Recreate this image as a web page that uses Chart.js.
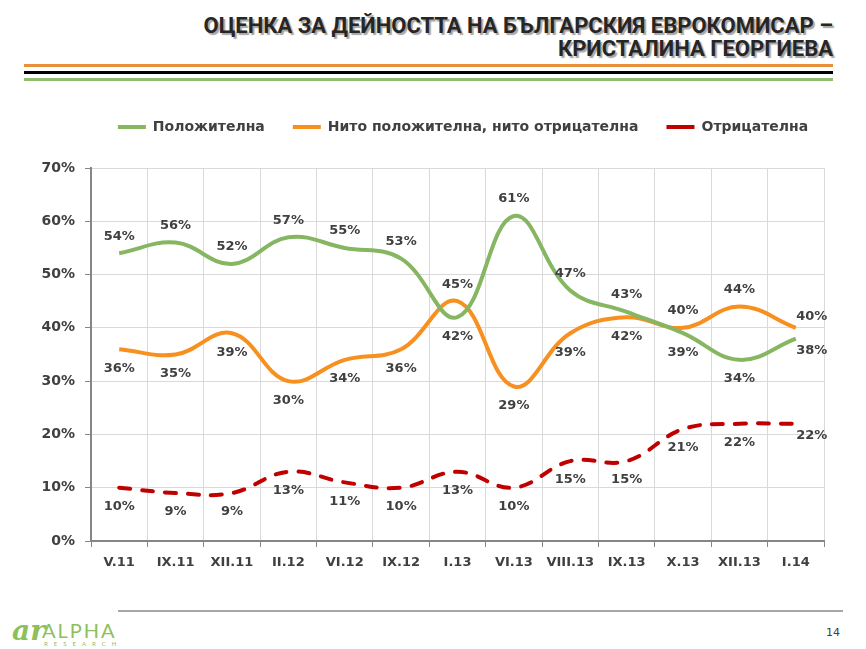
<!DOCTYPE html>
<html>
<head>
<meta charset="utf-8">
<script src="https://cdn.jsdelivr.net/npm/chart.js@4.4.1/dist/chart.umd.min.js"></script>
<style>
body { margin: 0; background: #fff; width: 866px; height: 649px; position: relative; overflow: hidden; font-family: "DejaVu Sans", sans-serif; }
.title { position: absolute; right: 33px; top: 14px; text-align: right; font-family: "Liberation Sans Narrow", "Roboto", sans-serif; font-weight: bold; font-size: 22px; line-height: 23px; color: #262626; text-shadow: 2px 2px 1px #a6a6a6; }
.rule { position: absolute; left: 24px; width: 809px; height: 3px; }
#wrap { position: absolute; left: 0; top: 84px; width: 866px; height: 501px; }
.foot { position: absolute; left: 118px; top: 610px; width: 725px; height: 2px; background: #a6a6a6; }
.page { position: absolute; left: 826px; top: 626px; font-size: 11px; color: #404040; }
.logo { position: absolute; left: 12px; top: 614px; color: #8dbf5b; }
.logo .mark { position: absolute; left: 0; top: 0; font: italic bold 28px "DejaVu Serif", serif; }
.logo .a { position: absolute; left: 30px; top: 4px; font: 20px "Lato", sans-serif; letter-spacing: 2px; }
.logo .r { position: absolute; left: 32px; top: 26px; font: 6px "Lato", sans-serif; letter-spacing: 6px; }
</style>
</head>
<body>
<div class="title">ОЦЕНКА ЗА ДЕЙНОСТТА НА БЪЛГАРСКИЯ ЕВРОКОМИСАР –<br>КРИСТАЛИНА ГЕОРГИЕВА</div>
<div class="rule" style="top:64px;background:#e8903a"></div>
<div class="rule" style="top:71px;background:#000"></div>
<div class="rule" style="top:78px;background:#8fbb6e"></div>
<div id="wrap"><canvas id="chart" width="866" height="501"></canvas></div>
<div class="foot"></div>
<div class="page">14</div>
<div class="logo"><span class="mark">ar</span><span class="a">ALPHA</span><span class="r">RESEARCH</span></div>
<script>
const categories = ['V.11', 'IX.11', 'XII.11', 'II.12', 'VI.12', 'IX.12', 'I.13', 'VI.13', 'VIII.13', 'IX.13', 'X.13', 'XII.13', 'I.14'];
const positive = [54, 56, 52, 57, 55, 53, 42, 61, 47, 43, 39, 34, 38];
const neutral = [36, 35, 39, 30, 34, 36, 45, 29, 39, 42, 40, 44, 40];
const negative = [10, 9, 9, 13, 11, 10, 13, 10, 15, 15, 21, 22, 22];
const yTicks = [0, 10, 20, 30, 40, 50, 60, 70];

// where each value label sits: a = above, b = below
const labelSide = [
    ['a', 'a', 'a', 'a', 'a', 'a', 'b', 'a', 'a', 'a', 'b', 'b', 'b'],
    ['b', 'b', 'b', 'b', 'b', 'b', 'a', 'b', 'b', 'b', 'a', 'a', 'a'],
    ['b', 'b', 'b', 'b', 'b', 'b', 'b', 'b', 'b', 'b', 'b', 'b', 'b']
];

const valueLabels = {
    id: 'valueLabels',
    afterDatasetsDraw(chart) {
        const ctx = chart.ctx;
        ctx.save();
        ctx.font = 'bold 13px "DejaVu Sans"';
        ctx.fillStyle = '#404040';
        ctx.textAlign = 'center';
        ctx.textBaseline = 'middle';
        chart.data.datasets.forEach((ds, i) => {
            chart.getDatasetMeta(i).data.forEach((pt, j) => {
                const last = j === ds.data.length - 1;
                let dy = labelSide[i][j] === 'a' ? -17 : 19;
                if (last) dy = labelSide[i][j] === 'a' ? -11 : 12;
                ctx.fillText(ds.data[j] + '%', pt.x + (last ? 16 : 0), pt.y + dy);
            });
        });
        ctx.restore();
    }
};

// more room under the legend, and legend moved a bit to the right
const legendGap = {
    id: 'legendGap',
    beforeInit(chart) {
        const fit = chart.legend.fit;
        chart.legend.fit = function () {
            fit.call(this);
            this.height += 24;
        };
    },
    afterLayout(chart) {
        chart.legend.left += 51;
        chart.legend.right += 51;
    }
};

const ctx = document.getElementById('chart').getContext('2d');
const chart = new Chart(ctx, {
    type: 'line',
    data: {
        labels: categories,
        datasets: [{
            label: 'Положителна',
            data: positive,
            borderColor: '#86b662',
            borderWidth: 4,
            tension: 0.4,
            pointRadius: 0
        }, {
            label: 'Нито положителна, нито отрицателна',
            data: neutral,
            borderColor: '#f7901e',
            borderWidth: 4,
            tension: 0.4,
            pointRadius: 0
        }, {
            label: 'Отрицателна',
            data: negative,
            borderColor: '#c00000',
            borderWidth: 4,
            borderDash: [11, 12],
            borderCapStyle: 'round',
            tension: 0.4,
            pointRadius: 0
        }]
    },
    options: {
        responsive: false,
        animation: false,
        layout: { padding: { top: 8, right: 42, left: 0, bottom: 0 } },
        plugins: {
            legend: {
                labels: {
                    usePointStyle: true,
                    pointStyle: 'line',
                    pointStyleWidth: 28,
                    boxWidth: 28,
                    boxHeight: 4,
                    padding: 28,
                    color: '#404040',
                    font: { family: 'DejaVu Sans', size: 14, weight: 'bold' }
                }
            },
            tooltip: { enabled: false }
        },
        scales: {
            x: {
                offset: true,
                grid: { offset: true, color: '#d9d9d9', tickLength: 6, tickColor: '#868686' },
                border: { color: '#868686', width: 2 },
                ticks: { color: '#404040', padding: 8, font: { family: 'DejaVu Sans', size: 13, weight: 'bold' } },
                afterFit(scale) { scale.height = 44; }
            },
            y: {
                min: 0,
                max: 70,
                afterBuildTicks(scale) { scale.ticks = yTicks.map(v => ({ value: v })); },
                grid: { color: '#d9d9d9', tickLength: 6, tickColor: '#868686' },
                border: { color: '#868686', width: 2 },
                ticks: {
                    color: '#404040',
                    padding: 10,
                    font: { family: 'DejaVu Sans', size: 14, weight: 'bold' },
                    callback: v => v + '%'
                },
                afterFit(scale) { scale.width = 91; }
            }
        }
    },
    plugins: [valueLabels, legendGap]
});
</script>
</body>
</html>
